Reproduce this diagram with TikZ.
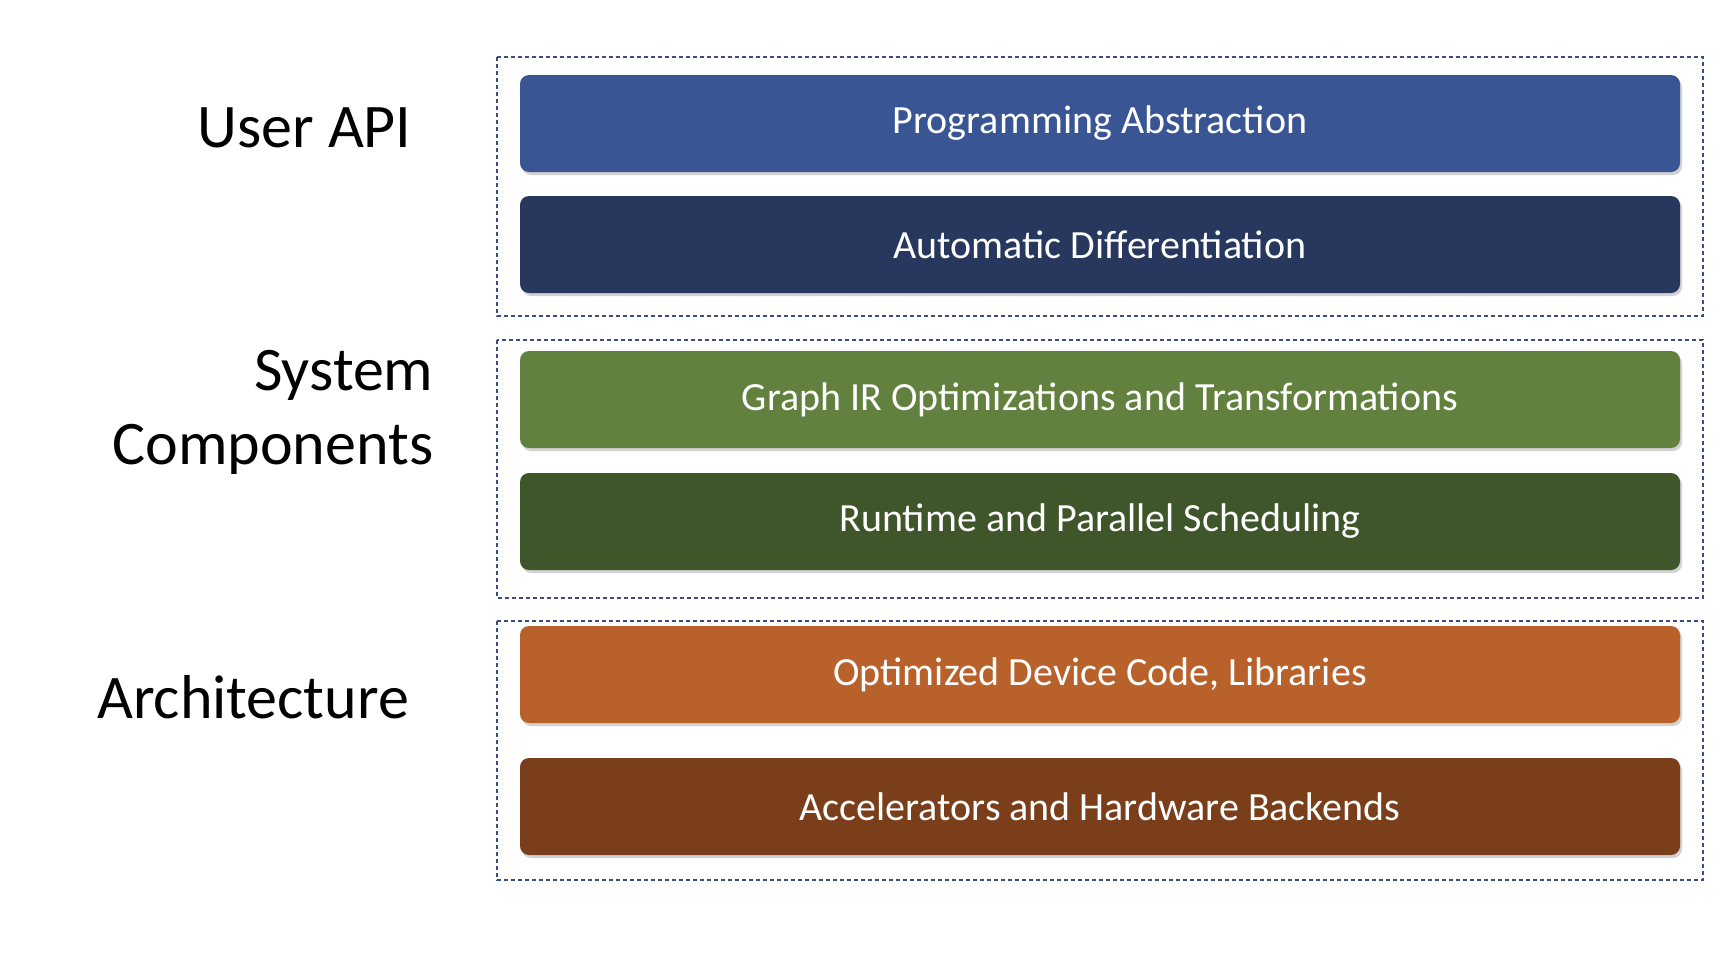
\documentclass[tikz,border=0pt]{standalone}
\usepackage{fontspec}
\setmainfont{Carlito}
\usetikzlibrary{shadows}
\definecolor{c1}{HTML}{3A5594}
\definecolor{c2}{HTML}{27375E}
\definecolor{c3}{HTML}{62803E}
\definecolor{c4}{HTML}{3F552A}
\definecolor{c5}{HTML}{B8612B}
\definecolor{c6}{HTML}{7A3E1A}
\definecolor{dash}{HTML}{3A4F80}
\begin{document}
\begin{tikzpicture}[x=1pt,y=-1pt,
 bar/.style={rounded corners=9pt, drop shadow={shadow xshift=2pt,shadow yshift=-3pt,opacity=0.35}},
 bartext/.style={text=white,font=\fontsize{40}{44}\selectfont},
 grp/.style={draw=dash,dashed,line width=1.3pt,dash pattern=on 4pt off 3pt},
 lab/.style={font=\fontsize{62}{74}\selectfont}]
\useasboundingbox (0,0) rectangle (1722,978);
\fill[white] (0,0) rectangle (1722,978);
\draw[grp] (497,57) rectangle (1703,316);
\draw[grp] (497,340) rectangle (1703,598);
\draw[grp] (497,621) rectangle (1703,880);
\foreach \c/\a/\b/\t/\n in {c1/75/172/Programming Abstraction/b1,
 c2/196/293/Automatic Differentiation/b2,
 c3/351/448/Graph IR Optimizations and Transformations/b3,
 c4/473/570/Runtime and Parallel Scheduling/b4,
 c5/626/723/{Optimized Device Code, Libraries}/b5,
 c6/758/855/Accelerators and Hardware Backends/b6}{
 \fill[bar,\c] (520,\a) rectangle (1680,\b);
 \node[bartext] (\n) at (1100,{(\a+\b)/2}) {\t};
}
\node[lab,anchor=east] (ua) at (415,128) {User API};
\node[lab,anchor=east,align=right] (sc) at (437,412) {System\\Components};
\node[lab] (ar) at (253,697) {Architecture};
\end{tikzpicture}
\end{document}
